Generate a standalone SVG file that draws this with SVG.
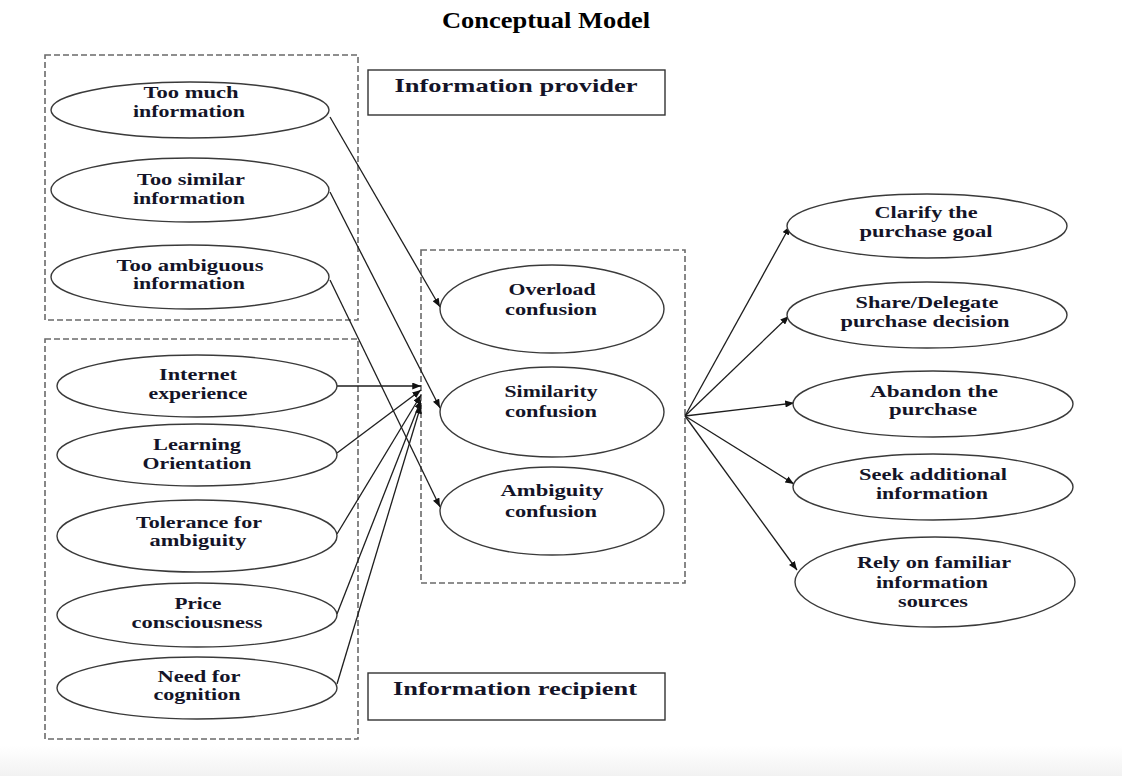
<svg xmlns="http://www.w3.org/2000/svg" width="1122" height="776" viewBox="0 0 1122 776">
<defs>
<style>
.bg{fill:#ffffff}
.dash{fill:none;stroke:#6a6a6a;stroke-width:1.6;stroke-dasharray:6 3}
.ell{fill:#ffffff;stroke:#3a3a3a;stroke-width:1.4}
.box{fill:#ffffff;stroke:#333333;stroke-width:1.4}
.t{font-family:"Liberation Serif","Times New Roman",serif;font-weight:bold;font-size:16.5px;fill:#141428;text-anchor:middle}
.tb{font-family:"Liberation Serif","Times New Roman",serif;font-weight:bold;font-size:19.5px;fill:#141428;text-anchor:middle}
.title{font-family:"Liberation Serif","Times New Roman",serif;font-weight:bold;font-size:23px;fill:#000000;text-anchor:middle}
.c{fill:none;stroke:#1e1e1e;stroke-width:1.3;marker-end:url(#ah)}
</style>
<marker id="ah" viewBox="0 0 10 8" refX="10" refY="4" markerWidth="9" markerHeight="7" markerUnits="userSpaceOnUse" orient="auto">
<path d="M0,0 L10,4 L0,8 Z" fill="#111111"/>
</marker>
<linearGradient id="foot" x1="0" y1="0" x2="0" y2="1">
<stop offset="0" stop-color="#ffffff"/>
<stop offset="1" stop-color="#f2f2f2"/>
</linearGradient>
</defs>
<rect class="bg" x="0" y="0" width="1122" height="776"/>
<rect x="0" y="746" width="1122" height="30" fill="url(#foot)"/>

<text class="title" x="546" y="28" textLength="208" lengthAdjust="spacingAndGlyphs">Conceptual Model</text>

<g id="groups">
<rect class="dash" x="45" y="55" width="313" height="265"/>
<rect class="dash" x="45" y="339" width="313" height="400"/>
<rect class="dash" x="421" y="250" width="264" height="333"/>
</g>

<g id="connectors">
<line class="c" x1="330" y1="117" x2="440" y2="307"/>
<line class="c" x1="330" y1="192" x2="440" y2="408"/>
<line class="c" x1="330" y1="280" x2="440" y2="507"/>
<line class="c" x1="337" y1="386" x2="421" y2="386"/>
<line class="c" x1="337" y1="453" x2="421" y2="390"/>
<line class="c" x1="337" y1="534" x2="421" y2="395"/>
<line class="c" x1="337" y1="614" x2="421" y2="400"/>
<line class="c" x1="337" y1="684" x2="421" y2="405"/>
<line class="c" x1="685" y1="416" x2="790" y2="226"/>
<line class="c" x1="685" y1="416" x2="789" y2="316"/>
<line class="c" x1="685" y1="416" x2="794" y2="403"/>
<line class="c" x1="685" y1="416" x2="794" y2="484"/>
<line class="c" x1="685" y1="416" x2="797" y2="570"/>
</g>

<g id="n-provider">
<rect class="box" x="368" y="70" width="297" height="45"/>
<text class="tb" x="516" y="92" textLength="243" lengthAdjust="spacingAndGlyphs">Information provider</text>
</g>
<g id="n-recipient">
<rect class="box" x="368" y="673" width="297" height="47"/>
<text class="tb" x="515" y="695" textLength="244" lengthAdjust="spacingAndGlyphs">Information recipient</text>
</g>

<g id="n-toomuch">
<ellipse class="ell" cx="190" cy="110" rx="139" ry="28"/>
<text class="t" x="191" y="98" textLength="95" lengthAdjust="spacingAndGlyphs">Too much</text>
<text class="t" x="189" y="116.5" textLength="112" lengthAdjust="spacingAndGlyphs">information</text>
</g>
<g id="n-toosimilar">
<ellipse class="ell" cx="190" cy="190" rx="139" ry="32"/>
<text class="t" x="191" y="185" textLength="108" lengthAdjust="spacingAndGlyphs">Too similar</text>
<text class="t" x="189" y="203.5" textLength="112" lengthAdjust="spacingAndGlyphs">information</text>
</g>
<g id="n-tooambiguous">
<ellipse class="ell" cx="190" cy="277" rx="139" ry="32"/>
<text class="t" x="190" y="270.5" textLength="147" lengthAdjust="spacingAndGlyphs">Too ambiguous</text>
<text class="t" x="189" y="289" textLength="112" lengthAdjust="spacingAndGlyphs">information</text>
</g>

<g id="n-internet">
<ellipse class="ell" cx="197" cy="386" rx="140" ry="31"/>
<text class="t" x="198" y="380" textLength="78" lengthAdjust="spacingAndGlyphs">Internet</text>
<text class="t" x="198" y="398.5" textLength="99" lengthAdjust="spacingAndGlyphs">experience</text>
</g>
<g id="n-learning">
<ellipse class="ell" cx="197" cy="455" rx="140" ry="31"/>
<text class="t" x="197" y="450" textLength="88" lengthAdjust="spacingAndGlyphs">Learning</text>
<text class="t" x="197" y="468.5" textLength="109" lengthAdjust="spacingAndGlyphs">Orientation</text>
</g>
<g id="n-tolerance">
<ellipse class="ell" cx="197" cy="536" rx="140" ry="36"/>
<text class="t" x="199" y="527.5" textLength="126" lengthAdjust="spacingAndGlyphs">Tolerance for</text>
<text class="t" x="198" y="546" textLength="97" lengthAdjust="spacingAndGlyphs">ambiguity</text>
</g>
<g id="n-price">
<ellipse class="ell" cx="197" cy="615" rx="140" ry="32"/>
<text class="t" x="198" y="609" textLength="47" lengthAdjust="spacingAndGlyphs">Price</text>
<text class="t" x="197" y="628" textLength="131" lengthAdjust="spacingAndGlyphs">consciousness</text>
</g>
<g id="n-need">
<ellipse class="ell" cx="197" cy="688" rx="140" ry="31"/>
<text class="t" x="199" y="681.5" textLength="83" lengthAdjust="spacingAndGlyphs">Need for</text>
<text class="t" x="197" y="700" textLength="87" lengthAdjust="spacingAndGlyphs">cognition</text>
</g>

<g id="n-overload">
<ellipse class="ell" cx="552" cy="309" rx="112" ry="44"/>
<text class="t" x="552" y="295" textLength="87" lengthAdjust="spacingAndGlyphs">Overload</text>
<text class="t" x="551" y="315" textLength="92" lengthAdjust="spacingAndGlyphs">confusion</text>
</g>
<g id="n-similarity">
<ellipse class="ell" cx="552" cy="412" rx="112" ry="45"/>
<text class="t" x="551" y="397" textLength="93" lengthAdjust="spacingAndGlyphs">Similarity</text>
<text class="t" x="551" y="417" textLength="92" lengthAdjust="spacingAndGlyphs">confusion</text>
</g>
<g id="n-ambiguity">
<ellipse class="ell" cx="552" cy="511" rx="112" ry="44"/>
<text class="t" x="552" y="496" textLength="103" lengthAdjust="spacingAndGlyphs">Ambiguity</text>
<text class="t" x="551" y="517" textLength="92" lengthAdjust="spacingAndGlyphs">confusion</text>
</g>

<g id="n-clarify">
<ellipse class="ell" cx="927" cy="226" rx="140" ry="32"/>
<text class="t" x="926" y="218" textLength="103" lengthAdjust="spacingAndGlyphs">Clarify the</text>
<text class="t" x="926" y="237" textLength="133" lengthAdjust="spacingAndGlyphs">purchase goal</text>
</g>
<g id="n-share">
<ellipse class="ell" cx="927" cy="315" rx="140" ry="33"/>
<text class="t" x="927" y="308" textLength="143" lengthAdjust="spacingAndGlyphs">Share/Delegate</text>
<text class="t" x="925" y="327" textLength="169" lengthAdjust="spacingAndGlyphs">purchase decision</text>
</g>
<g id="n-abandon">
<ellipse class="ell" cx="933" cy="404" rx="140" ry="33"/>
<text class="t" x="934" y="396.5" textLength="128" lengthAdjust="spacingAndGlyphs">Abandon the</text>
<text class="t" x="933" y="415" textLength="88" lengthAdjust="spacingAndGlyphs">purchase</text>
</g>
<g id="n-seek">
<ellipse class="ell" cx="933" cy="487" rx="140" ry="33"/>
<text class="t" x="933" y="480" textLength="148" lengthAdjust="spacingAndGlyphs">Seek additional</text>
<text class="t" x="932" y="498.5" textLength="112" lengthAdjust="spacingAndGlyphs">information</text>
</g>
<g id="n-rely">
<ellipse class="ell" cx="935" cy="582" rx="140" ry="45"/>
<text class="t" x="934" y="568" textLength="154" lengthAdjust="spacingAndGlyphs">Rely on familiar</text>
<text class="t" x="932" y="588" textLength="112" lengthAdjust="spacingAndGlyphs">information</text>
<text class="t" x="933" y="607" textLength="70" lengthAdjust="spacingAndGlyphs">sources</text>
</g>
</svg>
